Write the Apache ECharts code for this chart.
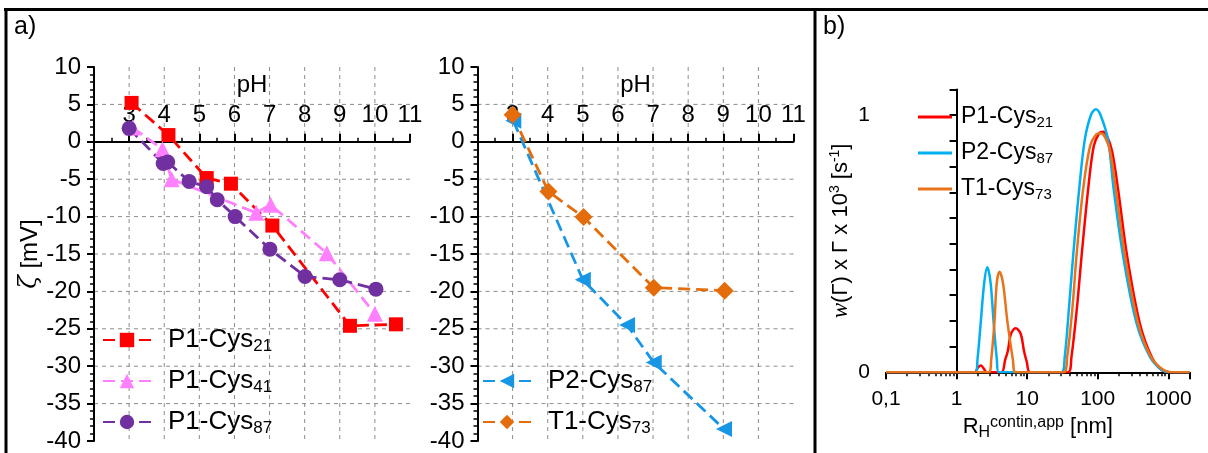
<!DOCTYPE html>
<html>
<head>
<meta charset="utf-8">
<script src="https://cdn.jsdelivr.net/npm/echarts@6/dist/echarts.min.js"></script>
<style>
  html, body { margin: 0; padding: 0; background: #fff; }
  #chart { width: 1208px; height: 453px; }
</style>
</head>
<body>
<div id="chart"></div>
<script>
// a) zeta potential vs pH  [pH, zeta mV]
var p1c21 = [[3.07, 5.2], [4.12, 0.9], [5.21, -4.85], [5.9, -5.6], [7.08, -11.2], [9.29, -24.6], [10.6, -24.4]];
var p1c41 = [[3.1, 1.9], [3.95, -1.0], [4.21, -5.0], [6.62, -9.5], [7.03, -8.4], [8.63, -14.9], [10.0, -23.0]];
var p1c87 = [[3.0, 1.8], [3.97, -2.9], [4.1, -2.7], [4.71, -5.3], [5.21, -6.0], [5.51, -7.75], [6.02, -10.0],
             [7.01, -14.35], [8.01, -18.0], [9.0, -18.45], [10.03, -19.7]];
var p2c87 = [[3.02, 2.8], [5.0, -18.45], [6.26, -24.5], [7.02, -29.5], [9.02, -38.4]];
var t1c73 = [[3.0, 3.6], [4.02, -6.65], [5.02, -10.07], [7.02, -19.5], [9.04, -19.9]];

var phGrid = [3, 4, 5, 6, 7, 8, 9, 10];          // vertical dashed lines
var zetaGrid = [5, -5, -10, -15, -20, -25, -30, -35]; // horizontal dashed lines

// b) CONTIN distributions: R_H [nm] and w(G) x G x 10^3 [s^-1]
var rP1 = [0.1, 1.8, 2.0, 2.21, 2.42, 2.68, 4.29, 4.9, 5.35, 5.9, 6.87, 8.1, 9.0, 9.9, 11.1,
           38, 42.5, 51, 59, 73, 88, 105, 119, 135, 160, 195, 262, 396, 581, 800, 1117, 2000];
var wP1 = [0, 0, 0.018, 0.026, 0.015, 0, 0, 0.05, 0.085, 0.15, 0.171, 0.15, 0.085, 0.04, 0,
           0, 0.06, 0.255, 0.45, 0.709, 0.88, 0.93, 0.936, 0.92, 0.86, 0.709, 0.45, 0.19, 0.06, 0.01, 0, 0];
var rP2 = [0.1, 1.85, 1.98, 2.21, 2.47, 2.72, 3.03, 3.34, 3.72, 3.97,
           30.6, 34.1, 39.3, 44.8, 54.5, 65.6, 80, 94, 110, 140, 169, 230, 356, 550, 800, 1050, 2000];
var wP2 = [0, 0, 0.05, 0.2, 0.35, 0.409, 0.35, 0.2, 0.05, 0,
           0, 0.06, 0.255, 0.45, 0.709, 0.904, 1.0, 1.023, 1.0, 0.904, 0.709, 0.45, 0.19, 0.06, 0.01, 0, 0];
var rT1 = [0.1, 2.86, 3.1, 3.45, 3.72, 4.06, 4.53, 5.24, 6.28, 6.87,
           33, 37, 44, 50, 62, 78, 95, 110, 127, 150, 181, 245, 375, 568, 850, 1245, 2000];
var wT1 = [0, 0, 0.05, 0.2, 0.35, 0.391, 0.35, 0.2, 0.05, 0,
           0, 0.06, 0.255, 0.45, 0.709, 0.88, 0.925, 0.93, 0.915, 0.86, 0.709, 0.45, 0.19, 0.06, 0.01, 0, 0];

var rTickLabels = ['0,1', '1', '10', '100', '1000'];
var rMinorTicks = [0.2, 0.3, 0.4, 0.5, 0.6, 0.7, 0.8, 0.9, 2, 3, 4, 5, 6, 7, 8, 9,
                   20, 30, 40, 50, 60, 70, 80, 90, 200, 300, 400, 500, 600, 700, 800, 900, 2000];

var FONT = 'Liberation Sans, Arial, sans-serif';
var BLK = '#000';
var ZERO_Y = 67 + 374 * 10 / 50;   // pixel row of zeta = 0, where the pH axis sits

function toLog(r, w) {
	return r.map(function(v, i) { return [Math.log10(v), w[i]]; });
}

var subRich = {
	s: { fontSize: 17, fontFamily: FONT, color: BLK, verticalAlign: 'bottom', lineHeight: 10 }
};
var subRichB = {
	s: { fontSize: 15, fontFamily: FONT, color: BLK, verticalAlign: 'bottom', lineHeight: 9 }
};
function legendFmt(name) {
	return name.replace(/^DLS /, '').replace(/(\d+)$/, '{s|$1}');
}

function gridLines(idx) {
	// dashed grid drawn through the axes' own scales
	return [{
		type: 'custom', xAxisIndex: idx, yAxisIndex: idx, z: 0, silent: true,
		data: phGrid.map(function(v) { return [v, -40]; }),
		renderItem: function(params, api) {
			var a = api.coord([api.value(0), 10]), b = api.coord([api.value(0), -40]);
			return { type: 'line', shape: { x1: a[0], y1: a[1], x2: b[0], y2: b[1] },
				style: { stroke: '#8c8c8c', lineWidth: 1, lineDash: [4, 4] } };
		}
	}, {
		type: 'custom', xAxisIndex: idx, yAxisIndex: idx, z: 0, silent: true,
		data: zetaGrid.map(function(v) { return [2, v]; }),
		renderItem: function(params, api) {
			var a = api.coord([2, api.value(1)]), b = api.coord([11, api.value(1)]);
			return { type: 'line', shape: { x1: a[0], y1: a[1], x2: b[0], y2: b[1] },
				style: { stroke: '#8c8c8c', lineWidth: 1, lineDash: [4, 4] } };
		}
	}];
}

// data x axis (hidden) for the zeta plots
function phDataAxis(idx) {
	return { gridIndex: idx, type: 'value', min: 2, max: 11, interval: 1, show: false };
}
// visible pH axis, in a helper grid whose top edge is the zeta = 0 line
function phAxis(gridIdx) {
	return {
		gridIndex: gridIdx, type: 'value', min: 2, max: 11, interval: 1, position: 'top',
		axisLine: { show: true, onZero: false, lineStyle: { color: BLK, width: 2 } },
		axisTick: { show: true, length: 8, lineStyle: { color: BLK, width: 2 } },
		minorTick: { show: true, splitNumber: 2, length: 4, lineStyle: { color: BLK, width: 1.5 } },
		axisLabel: { margin: 14, fontSize: 24, fontFamily: FONT, color: BLK,
			formatter: function(v) { return v < 3 ? '' : String(v); } },
		splitLine: { show: false },
		name: 'pH', nameLocation: 'middle', nameGap: 44,
		nameTextStyle: { fontSize: 24, fontFamily: FONT, color: BLK }
	};
}
function zetaAxis(idx) {
	var ax = {
		gridIndex: idx, type: 'value', min: -40, max: 10, interval: 5,
		axisLine: { show: true, onZero: false, lineStyle: { color: BLK, width: 2 } },
		axisTick: { show: true, length: 7, lineStyle: { color: BLK, width: 2 } },
		minorTick: { show: true, splitNumber: 5, length: 4, lineStyle: { color: BLK, width: 1.5 } },
		axisLabel: { margin: 13, fontSize: 24, fontFamily: FONT, color: BLK },
		splitLine: { show: false }
	};
	if (idx === 0) {
		ax.name = '{g|ζ} [mV]';
		ax.nameLocation = 'middle';
		ax.nameGap = 50;
		ax.nameRotate = 90;
		ax.nameTextStyle = { fontSize: 24, fontFamily: FONT, color: BLK,
			rich: { g: { fontSize: 25, fontFamily: 'DejaVu Serif', fontStyle: 'italic', color: BLK } } };
	}
	return ax;
}

function zetaSeries(name, data, idx, color, symbol, size, rotate) {
	return {
		name: name, type: 'line', xAxisIndex: idx, yAxisIndex: idx, data: data, z: 3,
		symbol: symbol, symbolSize: size, symbolRotate: rotate || 0, showSymbol: true,
		lineStyle: { color: color, width: 2.8, type: [12, 6] },
		itemStyle: { color: color }
	};
}
function dlsSeries(name, data, color) {
	return {
		name: name, type: 'line', xAxisIndex: 2, yAxisIndex: 2, data: data, z: 3,
		symbol: 'none', smooth: 0.35,
		lineStyle: { color: color, width: 2.5 }, itemStyle: { color: color }
	};
}

var chart = echarts.init(document.getElementById('chart'));
chart.setOption({
	animation: false,
	backgroundColor: '#fff',
	textStyle: { fontFamily: FONT },
	grid: [
		{ left: 94, right: 798, top: 67, bottom: 12 },
		{ left: 477.5, right: 414.5, top: 67, bottom: 12 },
		{ left: 886, right: 18.5, top: 89.5, bottom: 80.7 },
		{ left: 94, right: 798, top: ZERO_Y, bottom: 12 },
		{ left: 477.5, right: 414.5, top: ZERO_Y, bottom: 12 }
	],
	xAxis: [phDataAxis(0), phDataAxis(1), {
		gridIndex: 2, type: 'value', min: -1, max: Math.log10(2000), interval: 1,
		axisLine: { show: true, onZero: false, lineStyle: { color: BLK, width: 2 } },
		axisTick: { show: true, length: 7, lineStyle: { color: BLK, width: 2 } },
		axisLabel: { margin: 16, fontSize: 21, fontFamily: FONT, color: BLK,
			formatter: function(v) { var k = Math.round(v) + 1; return Math.abs(v - Math.round(v)) < 1e-6 ? (rTickLabels[k] || '') : ''; } },
		splitLine: { show: false },
		name: 'R{s|H}{p|contin,app} [nm]', nameLocation: 'middle', nameGap: 42,
		nameTextStyle: { fontSize: 22, fontFamily: FONT, color: BLK, lineHeight: 26,
			rich: {
				s: { fontSize: 16, fontFamily: FONT, color: BLK, verticalAlign: 'bottom', lineHeight: 8 },
				p: { fontSize: 16, fontFamily: FONT, color: BLK, verticalAlign: 'top', lineHeight: 12 }
			} }
	}, {
		gridIndex: 2, type: 'value', min: -1, max: Math.log10(2000), position: 'bottom',
		axisLine: { show: false, onZero: false },
		axisTick: { show: true, length: 4, lineStyle: { color: BLK, width: 1.5 },
			customValues: rMinorTicks.map(function(v) { return Math.log10(v); }) },
		axisLabel: { show: false },
		splitLine: { show: false }
	}, phAxis(3), phAxis(4)],
	yAxis: [zetaAxis(0), zetaAxis(1), {
		gridIndex: 2, type: 'value', min: 0, max: 1.1, interval: 0.1,
		axisLine: { show: true, lineStyle: { color: BLK, width: 2 } },
		axisTick: { show: true, length: 7, lineStyle: { color: BLK, width: 2 } },
		axisLabel: { margin: 16, fontSize: 21, fontFamily: FONT, color: BLK,
			formatter: function(v) { return Math.abs(v) < 1e-6 ? '0' : (Math.abs(v - 1) < 1e-6 ? '1' : ''); } },
		splitLine: { show: false },
		name: '{i|w}(Γ) x Γ x 10{p|3} [s{p|-1}]', nameLocation: 'middle', nameGap: 24, nameRotate: 90,
		nameTextStyle: { fontSize: 22, fontFamily: FONT, color: BLK, lineHeight: 26,
			rich: {
				i: { fontSize: 23, fontFamily: 'Liberation Serif', fontStyle: 'italic', color: BLK },
				p: { fontSize: 14, fontFamily: FONT, color: BLK, verticalAlign: 'top', lineHeight: 13 }
			} }
	}, { gridIndex: 3, type: 'value', min: -1, max: 0, show: false },
	   { gridIndex: 4, type: 'value', min: -1, max: 0, show: false }],
	legend: [{
		data: ['P1-Cys21', 'P1-Cys41', 'P1-Cys87'], orient: 'vertical', left: 102, top: 325, padding: 0,
		itemWidth: 48, itemHeight: 18, itemGap: 11, selectedMode: false,
		formatter: legendFmt,
		textStyle: { fontSize: 26, fontFamily: FONT, color: BLK, lineHeight: 30, padding: [0, 0, 0, 12], rich: subRich }
	}, {
		data: ['P2-Cys87', 'T1-Cys73'], orient: 'vertical', left: 482, top: 366, padding: 0,
		itemWidth: 48, itemHeight: 18, itemGap: 11, selectedMode: false,
		formatter: legendFmt,
		textStyle: { fontSize: 26, fontFamily: FONT, color: BLK, lineHeight: 30, padding: [0, 0, 0, 12], rich: subRich }
	}, {
		data: ['DLS P1-Cys21', 'DLS P2-Cys87', 'DLS T1-Cys73'], orient: 'vertical', left: 918, top: 104, padding: 0,
		icon: 'rect', itemWidth: 34, itemHeight: 3, itemGap: 10, selectedMode: false,
		formatter: legendFmt,
		textStyle: { fontSize: 23, fontFamily: FONT, color: BLK, lineHeight: 26, padding: [0, 0, 0, 4], rich: subRichB }
	}],
	series: [].concat(
		gridLines(0), gridLines(1),
		[
			zetaSeries('P1-Cys21', p1c21, 0, '#ff0000', 'rect', 14),
			zetaSeries('P1-Cys41', p1c41, 0, '#ff80ff', 'triangle', 16),
			zetaSeries('P1-Cys87', p1c87, 0, '#7030a0', 'circle', 15),
			zetaSeries('P2-Cys87', p2c87, 1, '#1896e6', 'triangle', 16, 90),
			zetaSeries('T1-Cys73', t1c73, 1, '#e46c0a', 'diamond', 18),
			dlsSeries('DLS P1-Cys21', toLog(rP1, wP1), '#ff0000'),
			dlsSeries('DLS P2-Cys87', toLog(rP2, wP2), '#00b0f0'),
			dlsSeries('DLS T1-Cys73', toLog(rT1, wT1), '#e8731a')
		]
	),
	graphic: [
		{ type: 'line', shape: { x1: 4, y1: 9.5, x2: 1208, y2: 9.5 }, style: { stroke: BLK, lineWidth: 3 } },
		{ type: 'line', shape: { x1: 6, y1: 8, x2: 6, y2: 453 }, style: { stroke: BLK, lineWidth: 3 } },
		{ type: 'line', shape: { x1: 815, y1: 8, x2: 815, y2: 453 }, style: { stroke: BLK, lineWidth: 3 } },
		{ type: 'text', left: 14, top: 15, style: { text: 'a)', fontSize: 25, fontFamily: FONT, fill: BLK } },
		{ type: 'text', left: 823, top: 15, style: { text: 'b)', fontSize: 25, fontFamily: FONT, fill: BLK } }
	]
});
</script>
</body>
</html>
